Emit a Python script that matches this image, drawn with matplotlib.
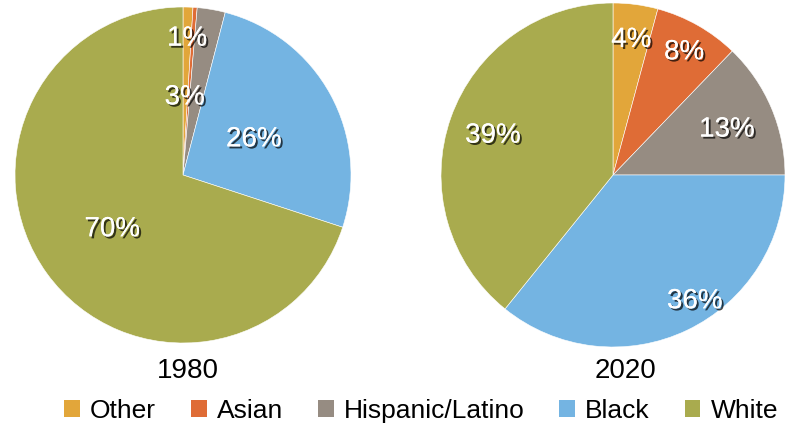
import matplotlib
matplotlib.use("Agg")
import matplotlib.pyplot as plt
import matplotlib.patheffects as pe
from matplotlib.patches import Patch
import numpy as np

plt.rcParams['font.family'] = ['Liberation Sans', 'DejaVu Sans']

categories = ["Other", "Asian", "Hispanic/Latino", "Black", "White"]
years = ["1980", "2020"]
values_1980 = [0.95, 0.4, 2.7, 26.0, 70.0]
values_2020 = [4.2, 8.0, 12.8, 35.8, 39.2]
labels_1980 = ["1%", "", "3%", "26%", "70%"]
labels_2020 = ["4%", "8%", "13%", "36%", "39%"]

colors = ["#E2A63A", "#DF6C36", "#968C82", "#74B4E2", "#A9AB4E"]

# label placement styling: radial fraction and angular nudge (deg)
lab_r_1980 = [0.83, 0.5, 0.48, 0.48, 0.52]
lab_nudge_1980 = [0, 0, 8.5, 0, 0]
lab_r_2020 = [0.81, 0.84, 0.72, 0.86, 0.74]
lab_nudge_2020 = [0, 0, 0, 8, 0]

fig = plt.figure(figsize=(7.9, 4.23), dpi=100)

fx = 790.0
fy = 423.0
def axes_for(cx, cy, r):
    return fig.add_axes([(cx - r) / fx, (fy - cy - r) / fy, 2 * r / fx, 2 * r / fy])

ax1 = axes_for(183, 175, 168)
ax2 = axes_for(613, 175, 172)

shadow = [pe.withSimplePatchShadow(offset=(1.5, -1.5), shadow_rgbFace='black', alpha=0.7),
          pe.Normal()]

for ax, vals, labs, rr, nud in [(ax1, values_1980, labels_1980, lab_r_1980, lab_nudge_1980),
                                (ax2, values_2020, labels_2020, lab_r_2020, lab_nudge_2020)]:
    wedges, _ = ax.pie(vals, colors=colors, startangle=90, counterclock=False,
                       radius=1.0, wedgeprops=dict(edgecolor='white', linewidth=0.4))
    for w, lab, r, n in zip(wedges, labs, rr, nud):
        if not lab:
            continue
        ang = np.deg2rad((w.theta1 + w.theta2) / 2 + n)
        ax.text(r * np.cos(ang), r * np.sin(ang), lab, ha='center', va='center_baseline',
                fontsize=20, color='white', path_effects=shadow)
    ax.set_xlim(-1, 1)
    ax.set_ylim(-1, 1)
    ax.set_aspect('equal')
    ax.axis('off')

fig.text(188 / fx, (fy - 368) / fy, years[0], ha='center', va='center_baseline', fontsize=20)
fig.text(625 / fx, (fy - 368) / fy, years[1], ha='center', va='center_baseline', fontsize=20)

handles = [Patch(facecolor=c, edgecolor='none') for c in colors]
fig.legend(handles, categories, loc='center', bbox_to_anchor=(0.533, (fy - 411) / fy),
           ncol=5, frameon=False, fontsize=19, handlelength=0.6, handleheight=0.6,
           handletextpad=0.38, columnspacing=1.32, borderaxespad=0)

fig.savefig("out.png", dpi=100)
